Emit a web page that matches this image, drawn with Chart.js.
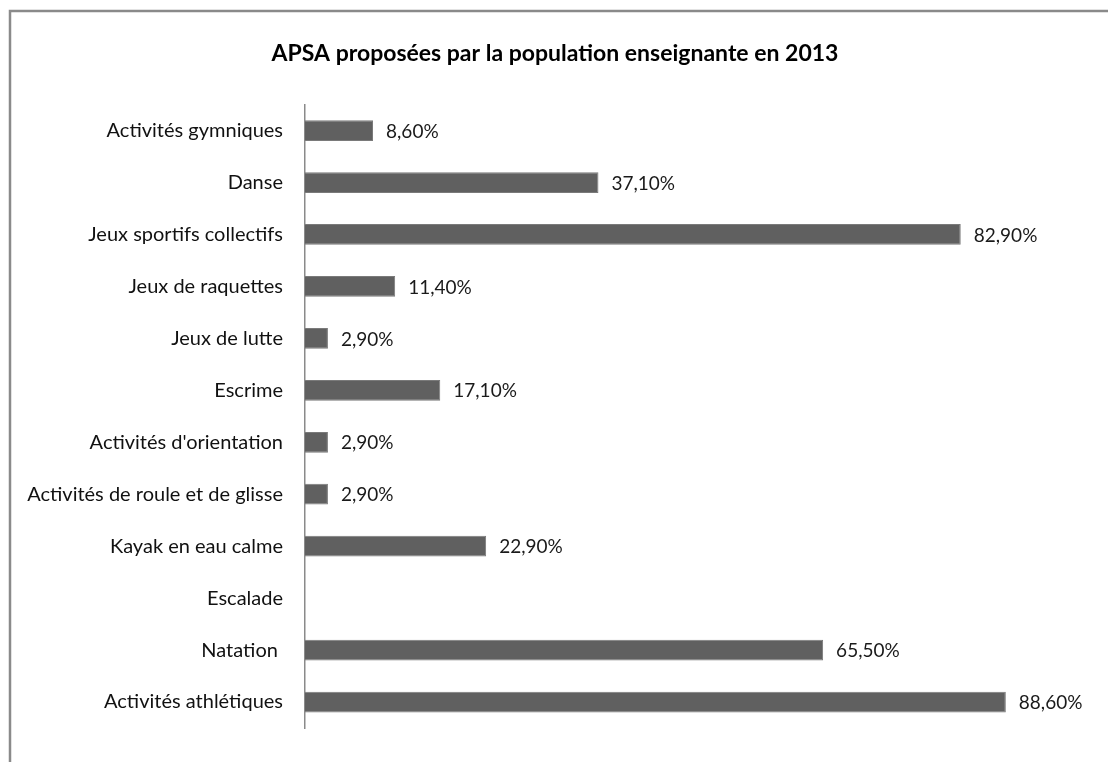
<!DOCTYPE html>
<html>
<head>
<meta charset="utf-8">
<script src="https://cdn.jsdelivr.net/npm/chart.js@4/dist/chart.umd.min.js"></script>
<style>
  html, body { margin: 0; padding: 0; background: #fff; }
  canvas { display: block; }
</style>
</head>
<body>
<canvas id="c" width="1108" height="762"></canvas>
<script>
const chartTitle = 'APSA proposées par la population enseignante en 2013';
const categories = [
  'Activités gymniques',
  'Danse',
  'Jeux sportifs collectifs',
  'Jeux de raquettes',
  'Jeux de lutte',
  'Escrime',
  "Activités d'orientation",
  'Activités de roule et de glisse',
  'Kayak en eau calme',
  'Escalade',
  'Natation ',
  'Activités athlétiques'
];
const values = [8.6, 37.1, 82.9, 11.4, 2.9, 17.1, 2.9, 2.9, 22.9, null, 65.5, 88.6];

const FONT = 'Lato, "Open Sans", sans-serif';

const framePlugin = {
  id: 'frame',
  beforeDraw(chart) {
    const ctx = chart.ctx;
    ctx.save();
    ctx.fillStyle = '#ffffff';
    ctx.fillRect(0, 0, chart.width, chart.height);
    ctx.strokeStyle = '#8a8a8a';
    ctx.lineWidth = 2.5;
    ctx.beginPath();
    ctx.moveTo(10, chart.height);
    ctx.lineTo(10, 11);
    ctx.lineTo(chart.width, 11);
    ctx.stroke();
    ctx.restore();
  }
};

const valueLabelPlugin = {
  id: 'valueLabels',
  afterDatasetsDraw(chart) {
    const ctx = chart.ctx;
    const meta = chart.getDatasetMeta(0);
    ctx.save();
    ctx.font = '19px ' + FONT;
    ctx.fillStyle = '#1a1a1a';
    ctx.textAlign = 'left';
    ctx.textBaseline = 'middle';
    meta.data.forEach((bar, i) => {
      const v = values[i];
      if (v === null || v === undefined) return;
      const txt = v.toFixed(2).replace('.', ',') + '%';
      ctx.fillText(txt, bar.x + 13, bar.y + 1);
    });
    ctx.restore();
  }
};

new Chart(document.getElementById('c'), {
  type: 'bar',
  data: {
    labels: categories,
    datasets: [{
      data: values,
      backgroundColor: '#606060',
      borderColor: '#7a7a7a',
      borderWidth: 1,
      categoryPercentage: 1,
      barPercentage: 0.4
    }]
  },
  options: {
    indexAxis: 'y',
    responsive: false,
    animation: false,
    layout: { padding: { left: 14, right: 12, top: 0, bottom: 22 } },
    plugins: {
      legend: { display: false },
      tooltip: { enabled: false },
      title: {
        display: true,
        text: chartTitle,
        color: '#000',
        font: { family: FONT, size: 23, weight: 'bold', lineHeight: 1.2 },
        padding: { top: 40, bottom: 37 }
      }
    },
    scales: {
      x: {
        display: false,
        min: 0,
        max: 100
      },
      y: {
        afterFit(scale) { scale.width = 291; },
        grid: { display: false, drawTicks: false },
        border: { display: true, color: '#8a8a8a', width: 1.5 },
        ticks: {
          color: '#111',
          padding: 22,
          font: { family: FONT, size: 20 }
        }
      }
    }
  },
  plugins: [framePlugin, valueLabelPlugin]
});
</script>
</body>
</html>
